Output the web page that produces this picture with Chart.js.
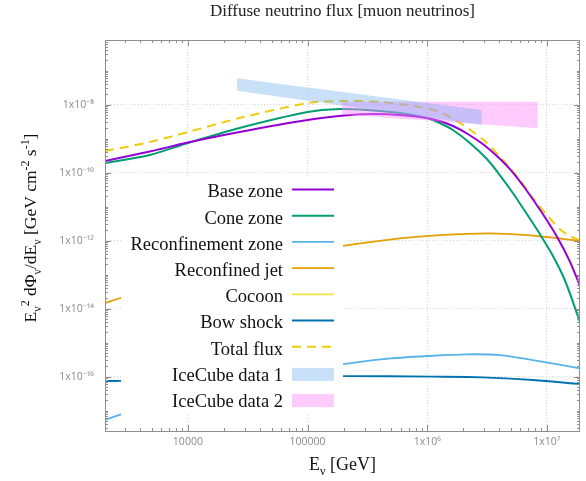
<!DOCTYPE html>
<html>
<head>
<meta charset="utf-8">
<script src="https://cdn.jsdelivr.net/npm/chart.js@4"></script>
<style>
  html, body { margin: 0; padding: 0; background: #ffffff; }
  #wrap { width: 586px; height: 481px; position: relative; }
  canvas { display: block; }
</style>
</head>
<body>
<div id="wrap"><canvas id="c" width="586" height="481"></canvas></div>
<script>
// ---------------- data ----------------
const baseE      = [2030, 4800, 1e4, 2.7e4, 1e5, 2.26e5, 3.8e5, 5.9e5, 9.9e5, 1.27e6, 1.64e6, 2.18e6, 2.91e6, 3.82e6, 4.99e6, 6.54e6, 9.24e6, 1.23e7, 1.55e7, 1.89e7];
const baseFlux   = [2.18e-10, 4.15e-10, 7.6e-10, 1.55e-9, 3.5e-9, 4.9e-9, 5.25e-9, 4.9e-9, 4.0e-9, 3.27e-9, 2.33e-9, 1.36e-9, 6.9e-10, 3.06e-10, 1.18e-10, 3.5e-11, 6.0e-12, 1.19e-12, 2.49e-13, 4.6e-14];

const coneE      = [2030, 4800, 1e4, 2.7e4, 1e5, 1.86e5, 3.13e5, 5.9e5, 9.9e5, 1.27e6, 1.64e6, 2.27e6, 3.15e6, 4.04e6, 5.19e6, 6.8e6, 8.73e6, 1.1e7, 1.41e7, 1.89e7];
const coneFlux   = [1.9e-10, 3.27e-10, 7.4e-10, 2.04e-9, 6.0e-9, 7.4e-9, 6.9e-9, 5.6e-9, 4.0e-9, 2.86e-9, 1.78e-9, 7.4e-10, 2.49e-10, 8.4e-11, 2.49e-11, 6.0e-12, 1.55e-12, 4.0e-13, 6.9e-14, 4.0e-15];

const reconfZoneE    = [2030, 3150, 1e4, 3.16e4, 1e5, 1.97e5, 4.26e5, 1.11e6, 2.14e6, 4.04e6, 7.63e6, 1.89e7];
const reconfZoneFlux = [5.26e-18, 9.0e-18, 2.86e-17, 7.9e-17, 1.66e-16, 2.29e-16, 3.27e-16, 4.09e-16, 4.5e-16, 4.29e-16, 3.05e-16, 1.74e-16];

const reconfJetE     = [2030, 2760, 1e4, 3.16e4, 1e5, 1.97e5, 5.9e5, 1.27e6, 3.33e6, 6.8e6, 1.12e7, 1.89e7];
const reconfJetFlux  = [1.45e-14, 2.04e-14, 7.4e-14, 2.1e-13, 4.7e-13, 7.0e-13, 1.16e-12, 1.45e-12, 1.63e-12, 1.45e-12, 1.21e-12, 9.7e-13];

const cocoonE    = [];   // not visible inside the plotted range
const cocoonFlux = [];

const bowShockE    = [2030, 2760, 1e4, 1e5, 1.97e5, 1.11e6, 2.9e6, 7.63e6, 1.89e7];
const bowShockFlux = [7.4e-17, 7.4e-17, 8.2e-17, 9.6e-17, 1.03e-16, 9.9e-17, 9.5e-17, 7.9e-17, 6.0e-17];

const totalE     = [2030, 4800, 1e4, 2.7e4, 1e5, 1.86e5, 4.0e5, 9.9e5, 1.32e6, 1.77e6, 2.36e6, 3.15e6, 4.28e6, 5.94e6, 7.63e6, 1e7, 1.28e7, 1.55e7, 1.89e7];
const totalFlux  = [4.28e-10, 7.9e-10, 1.55e-9, 4.0e-9, 1.1e-8, 1.27e-8, 1.19e-8, 7.9e-9, 5.62e-9, 3.27e-9, 1.66e-9, 7.4e-10, 2.33e-10, 6.0e-11, 1.78e-11, 5.6e-12, 2.18e-12, 1.36e-12, 1.03e-12];

const iceCube1E     = [2.56e4, 2.86e6];
const iceCube1Upper = [5.9e-8, 6.9e-9];
const iceCube1Lower = [2.55e-8, 2.5e-9];

const iceCube2E     = [1.93e5, 8.4e6];
const iceCube2Upper = [1.21e-8, 1.21e-8];
const iceCube2Lower = [5.1e-9, 2.0e-9];

const xTickValues = [1e4, 1e5, 1e6, 1e7];
const xTickLabels = ['10000', '100000', '1x10\u2076', '1x10\u2077'];
const yTickValues = [1e-16, 1e-14, 1e-12, 1e-10, 1e-8];
const yTickLabels = ['1x10\u207B\u00B9\u2076', '1x10\u207B\u00B9\u2074', '1x10\u207B\u00B9\u00B2', '1x10\u207B\u00B9\u2070', '1x10\u207B\u2078'];

const xRange = [2030, 1.89e7];
const yRange = [2.5e-18, 7.9e-7];

// ---------------- helpers ----------------
const pts = (xs, ys) => xs.map((x, i) => ({ x: x, y: ys[i] }));
const lineDs = (label, xs, ys, color, extra) => Object.assign({
  label: label, data: pts(xs, ys), borderColor: color, backgroundColor: color,
  borderWidth: 1.8, pointRadius: 0, fill: false, tension: 0.3, order: 2
}, extra || {});

const datasets = [
  lineDs('Base zone', baseE, baseFlux, '#9400D3', { borderWidth: 2 }),
  lineDs('Cone zone', coneE, coneFlux, '#009E73', { borderWidth: 2 }),
  lineDs('Reconfinement zone', reconfZoneE, reconfZoneFlux, '#56B4E9'),
  lineDs('Reconfined jet', reconfJetE, reconfJetFlux, '#E69F00'),
  lineDs('Cocoon', cocoonE, cocoonFlux, '#F0E442'),
  lineDs('Bow shock', bowShockE, bowShockFlux, '#0072B2'),
  lineDs('Total flux', totalE, totalFlux, '#F2CC0C', { borderWidth: 2, borderDash: [9, 6] }),
  { label: 'IceCube data 1', data: pts(iceCube1E, iceCube1Upper), borderWidth: 0, borderColor: 'rgba(0,0,0,0)',
    backgroundColor: 'rgba(100,170,235,0.35)', pointRadius: 0, fill: '+1', tension: 0, order: 0, band: true },
  { label: '_ic1low', data: pts(iceCube1E, iceCube1Lower), borderWidth: 0, borderColor: 'rgba(0,0,0,0)',
    pointRadius: 0, fill: false, tension: 0, order: 0, hiddenKey: true },
  { label: 'IceCube data 2', data: pts(iceCube2E, iceCube2Upper), borderWidth: 0, borderColor: 'rgba(0,0,0,0)',
    backgroundColor: 'rgba(255,140,255,0.45)', pointRadius: 0, fill: '+1', tension: 0, order: 1, band: true },
  { label: '_ic2low', data: pts(iceCube2E, iceCube2Lower), borderWidth: 0, borderColor: 'rgba(0,0,0,0)',
    pointRadius: 0, fill: false, tension: 0, order: 1, hiddenKey: true }
];

// rich text: segments [text, kind] kind: n | sub | sup
function drawRich(ctx, segs, size, family) {
  let w = 0;
  const measure = [];
  segs.forEach(([t, k]) => {
    const s = k === 'n' ? size : size * 0.68;
    ctx.font = s + 'px ' + family;
    const m = ctx.measureText(t).width;
    measure.push([t, k, s, m]); w += m;
  });
  return { width: w, draw: (x0, y0) => {
    let x = x0;
    measure.forEach(([t, k, s, m]) => {
      ctx.font = s + 'px ' + family;
      const dy = k === 'sub' ? size * 0.28 : (k === 'sup' ? -size * 0.42 : 0);
      ctx.fillText(t, x, y0 + dy); x += m;
    });
  }};
}

const serif = '"Liberation Serif", "DejaVu Serif", serif';

const framePlugin = {
  id: 'frameTicks',
  afterDatasetsDraw(chart) {
    const ctx = chart.ctx;
    // opaque key box
    ctx.save();
    ctx.fillStyle = '#ffffff';
    ctx.fillRect(121, 176, 222, 239);
    // key entries
    const keyRight = 283, sampleL = 292, sampleR = 334;
    let y = 191.5;
    ctx.textAlign = 'right';
    ctx.textBaseline = 'middle';
    ctx.font = '18.5px ' + serif;
    chart.data.datasets.forEach(ds => {
      if (ds.hiddenKey) return;
      ctx.fillStyle = '#111111';
      ctx.fillText(ds.label, keyRight, y + 1);
      if (ds.band) {
        ctx.fillStyle = ds.backgroundColor;
        ctx.fillRect(sampleL, y - 7, sampleR - sampleL, 13);
      } else {
        ctx.strokeStyle = ds.borderColor;
        ctx.lineWidth = ds.borderWidth;
        ctx.setLineDash(ds.borderDash || []);
        ctx.beginPath();
        ctx.moveTo(sampleL, y - 2); ctx.lineTo(sampleR, y - 2);
        ctx.stroke();
        ctx.setLineDash([]);
      }
      y += 26.2;
    });
    ctx.restore();
  },
  afterDraw(chart) {
    const ctx = chart.ctx, a = chart.chartArea;
    const xs = chart.scales.x, ys = chart.scales.y;
    ctx.save();
    ctx.strokeStyle = '#8f8f8f';
    ctx.lineWidth = 1;
    ctx.strokeRect(Math.round(a.left) + 0.5, Math.round(a.top) + 0.5, Math.round(a.right - a.left) - 1, Math.round(a.bottom - a.top));
    ctx.beginPath();
    // x ticks (inward, bottom and top)
    for (let n = 3; n <= 7; n++) {
      for (let m = 1; m <= 9; m++) {
        const v = m * Math.pow(10, n);
        if (v < xRange[0] || v > xRange[1]) continue;
        const px = Math.round(xs.getPixelForValue(v)) + 0.5;
        const len = m === 1 ? 6 : 3;
        ctx.moveTo(px, a.bottom); ctx.lineTo(px, a.bottom - len);
        ctx.moveTo(px, a.top); ctx.lineTo(px, a.top + len);
      }
    }
    // y ticks (inward, left and right)
    for (let n = -18; n <= -6; n++) {
      for (let m = 1; m <= 9; m++) {
        const v = m * Math.pow(10, n);
        if (v < yRange[0] || v > yRange[1]) continue;
        const py = Math.round(ys.getPixelForValue(v)) + 0.5;
        const len = (m === 1 && n % 2 === 0) ? 6 : 3;
        ctx.moveTo(a.left, py); ctx.lineTo(a.left + len, py);
        ctx.moveTo(a.right, py); ctx.lineTo(a.right - len, py);
      }
    }
    ctx.stroke();

    // axis titles
    ctx.fillStyle = '#111111';
    ctx.textBaseline = 'alphabetic';
    ctx.textAlign = 'left';
    const xt = drawRich(ctx, [['E', 'n'], ['\u03BD', 'sub'], [' [GeV]', 'n']], 18, serif);
    xt.draw((a.left + a.right) / 2 - xt.width / 2, 470);

    ctx.translate(36, 228);
    ctx.rotate(-Math.PI / 2);
    const yt = drawRich(ctx, [
      ['E', 'n'], ['\u03BD', 'sub'], ['2', 'sup'], [' d\u03A6', 'n'], ['\u03BD', 'sub'],
      ['/dE', 'n'], ['\u03BD', 'sub'], [' [GeV cm', 'n'], ['-2', 'sup'], [' s', 'n'], ['-1', 'sup'], [']', 'n']
    ], 17.5, serif);
    yt.draw(-yt.width / 2, 0);
    ctx.restore();
  }
};

new Chart(document.getElementById('c'), {
  type: 'line',
  data: { datasets: datasets },
  plugins: [framePlugin],
  options: {
    responsive: false,
    animation: false,
    devicePixelRatio: 1,
    layout: { padding: { left: 0, right: 6, top: 0, bottom: 0 } },
    plugins: {
      legend: { display: false },
      tooltip: { enabled: false },
      title: {
        display: true,
        text: 'Diffuse neutrino flux [muon neutrinos]',
        fullSize: false,
        color: '#222222',
        font: { family: serif, size: 17, weight: 'normal', lineHeight: 1.2 },
        padding: { top: 1.5, bottom: 18.1 }
      }
    },
    scales: {
      x: {
        type: 'logarithmic',
        min: xRange[0], max: xRange[1],
        afterBuildTicks: s => { s.ticks = xTickValues.map(v => ({ value: v })); },
        afterFit: s => { s.height = 50; },
        ticks: {
          autoSkip: false, maxRotation: 0, padding: 5,
          color: '#8a8a8a', font: { family: '"Open Sans", sans-serif', size: 10.5 },
          callback: (v) => { const i = xTickValues.indexOf(v); return i >= 0 ? xTickLabels[i] : ''; }
        },
        grid: { color: '#d4d4d4', lineWidth: 1, drawTicks: false },
        border: { display: false, dash: [1, 2] }
      },
      y: {
        type: 'logarithmic',
        min: yRange[0], max: yRange[1],
        afterBuildTicks: s => { s.ticks = yTickValues.map(v => ({ value: v })); },
        afterFit: s => { s.width = 105; },
        ticks: {
          autoSkip: false, padding: 11,
          color: '#8a8a8a', font: { family: '"Open Sans", sans-serif', size: 10.5 },
          callback: (v) => { const i = yTickValues.findIndex(t => Math.abs(t - v) / t < 1e-6); return i >= 0 ? yTickLabels[i] : ''; }
        },
        grid: { color: '#d4d4d4', lineWidth: 1, drawTicks: false },
        border: { display: false, dash: [1, 2] }
      }
    }
  }
});
</script>
</body>
</html>
